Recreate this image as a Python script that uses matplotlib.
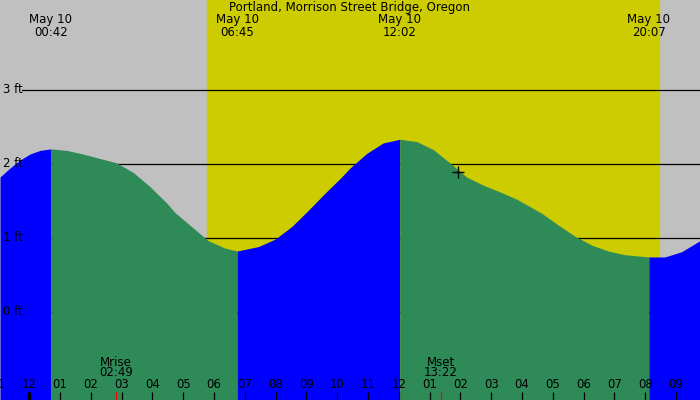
import matplotlib
matplotlib.use("Agg")
import matplotlib.pyplot as plt

# tide heights (ft), by hour of May 10
hours = [-0.95, -0.63, -0.30, 0.02, 0.35, 0.70, 1.21, 1.75, 2.30, 2.84, 3.38,
         3.92, 4.46, 4.73, 5.27, 5.81, 6.35, 6.75, 7.44, 7.98, 8.52, 9.06,
         9.60, 10.14, 10.41, 10.96, 11.49, 12.03, 12.58, 13.12, 13.66, 14.20,
         14.74, 15.28, 15.83, 16.09, 16.64, 17.18, 17.72, 18.26, 18.80, 19.34,
         20.12, 20.64, 21.18, 21.78]
heights = [1.82, 1.94, 2.05, 2.13, 2.18, 2.20, 2.18, 2.13, 2.07, 2.01, 1.88,
           1.69, 1.47, 1.34, 1.15, 0.96, 0.86, 0.82, 0.88, 0.98, 1.15, 1.37,
           1.60, 1.82, 1.94, 2.14, 2.28, 2.33, 2.30, 2.19, 2.01, 1.82,
           1.71, 1.62, 1.52, 1.46, 1.33, 1.17, 1.02, 0.90, 0.82, 0.77,
           0.74, 0.74, 0.81, 0.96]

# high / low tide times
extreme_hours = [0.70, 6.75, 12.03, 20.12]
extreme_labels = ["00:42", "06:45", "12:02", "20:07"]

sunrise, sunset = 5.77, 20.44
moonrise, moonset = 2 + 49 / 60, 13 + 22 / 60
now_hour, now_height = 13.93, 1.89

title = "Portland, Morrison Street Bridge, Oregon"
ft_levels = [0, 1, 2, 3]
tick_hours = list(range(-1, 22))

GRAY = "#c0c0c0"
YELLOW = "#cccc00"
GREEN = "#2e8b57"
BLUE = "#0000ff"
FS = 8.5

fig = plt.figure(figsize=(7, 4), dpi=100, facecolor=GRAY)
ax = fig.add_axes([0, 0, 1, 1])
x0, x1 = -0.951, 21.78
y0, y1 = -1.193, 4.212
ax.set_xlim(x0, x1)
ax.set_ylim(y0, y1)
ax.axis("off")
ax.axvspan(sunrise, sunset, color=YELLOW, zorder=0)

# level lines sit under the water, labels on top
for lv in ft_levels:
    ax.plot([x0 + 22 / 30.8, x1], [lv, lv], color="black", lw=0.9, zorder=1)
    ax.text(x0 + 3 / 30.8, lv, f"{lv} ft", fontsize=FS, va="center",
            ha="left", zorder=5)

# fill: rising = blue, falling = green
bounds = [0] + [hours.index(h) for h in extreme_hours] + [len(hours) - 1]
for k in range(len(bounds) - 1):
    a, b = bounds[k], bounds[k + 1]
    seg_x, seg_y = hours[a:b + 1], heights[a:b + 1]
    rising = seg_y[-1] > seg_y[0]
    ax.fill_between(seg_x, y0, seg_y, color=BLUE if rising else GREEN,
                    lw=0, zorder=2)

ax.plot([now_hour], [now_height], marker="+", color="black", ms=9,
        mew=1, zorder=4)

xt = ax.get_xaxis_transform()
def ypx(p):
    return 1 - p / 400

ax.text(10.4, ypx(8), title, transform=xt, ha="center", va="center",
        fontsize=FS, zorder=5)
for h, lab in zip(extreme_hours, extreme_labels):
    ax.text(h, ypx(20), "May 10", transform=xt, ha="center", va="center",
            fontsize=FS, zorder=5)
    ax.text(h, ypx(32), lab, transform=xt, ha="center", va="center",
            fontsize=FS, zorder=5)

# hour ticks along the bottom
for h in tick_hours:
    lab = f"{(h % 12) or 12:02d}"
    ax.text(h, ypx(385), lab, transform=xt, ha="center", va="center",
            fontsize=FS, zorder=5)
ax.vlines(tick_hours, 0, ypx(392), transform=xt, color="black", lw=0.9,
          zorder=5)
ax.vlines([0], 0, ypx(392), transform=xt, color="black", lw=2.5, zorder=5)

for h, name in [(moonrise, "Mrise"), (moonset, "Mset")]:
    hh, mm = int(h), round((h - int(h)) * 60)
    ax.text(h, ypx(362), name, transform=xt, ha="center", va="center",
            fontsize=FS, zorder=5)
    ax.text(h, ypx(373), f"{hh:02d}:{mm:02d}", transform=xt, ha="center",
            va="center", fontsize=FS, zorder=5)
    ax.vlines([h], 0, ypx(392), transform=xt, color="red", lw=0.9, zorder=5)

fig.savefig("out.png", dpi=100, facecolor=GRAY)
